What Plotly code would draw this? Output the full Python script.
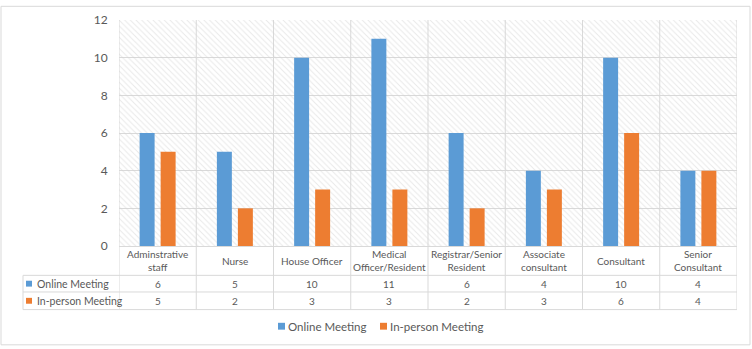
import plotly.graph_objects as go

categories = ["Adminstrative<br>staff", "Nurse", "House Officer", "Medical<br>Officer/Resident",
              "Registrar/Senior<br>Resident", "Associate<br>consultant", "Consultant", "Senior<br>Consultant"]
series_names = ["Online Meeting", "In-person Meeting"]
online = [6, 5, 10, 11, 6, 4, 10, 4]
inperson = [5, 2, 3, 3, 2, 3, 6, 4]
y_ticks = [0, 2, 4, 6, 8, 10, 12]
YMAX = 12

BLUE = "#5B9BD5"
ORANGE = "#ED7D31"
GRID = "#d9d9d9"
TXT = "#595959"
FONT = "Lato"

W, H = 752, 349
L, R, T, B = 119, 737, 15, 246
PW, PH = R - L, B - T


def px(x):
    return (x - L) / PW


def py(y):
    return (B - y) / PH


xs = list(range(len(categories)))
fig = go.Figure()

# hatched plot-area background
fig.add_trace(go.Bar(
    x=xs, y=[YMAX] * len(xs), width=1, offset=-0.5,
    marker=dict(color="rgba(0,0,0,0)", line=dict(width=0),
                pattern=dict(shape="\\", fgcolor="#d2d2d2", size=4, solidity=0.25)),
    hoverinfo="skip", showlegend=False))

fig.add_trace(go.Bar(x=xs, y=online, name=series_names[0], marker_color=BLUE,
                     width=0.194, offset=-0.233, marker_line_width=0, showlegend=False))
fig.add_trace(go.Bar(x=xs, y=inperson, name=series_names[1], marker_color=ORANGE,
                     width=0.194, offset=0.039, marker_line_width=0, showlegend=False))

shapes = []
ann = []
line = dict(color=GRID, width=1)

# vertical lines at category boundaries (plot + table)
for k in range(len(categories) + 1):
    shapes.append(dict(type="line", xref="x", yref="paper", x0=k - 0.5, x1=k - 0.5,
                       y0=py(15), y1=py(311), line=line, layer="below"))
# table horizontal lines
for yy in [276, 293, 311]:
    shapes.append(dict(type="line", xref="paper", yref="paper", x0=px(23), x1=px(737),
                       y0=py(yy), y1=py(yy), line=line))
shapes.append(dict(type="line", xref="paper", yref="paper", x0=px(23), x1=px(23),
                   y0=py(276), y1=py(311), line=line))
# outer chart border
shapes.append(dict(type="rect", xref="paper", yref="paper", x0=px(1), x1=px(750),
                   y0=py(1), y1=py(347), line=line, layer="below"))

# category labels
for i, c in enumerate(categories):
    ann.append(dict(x=i, y=py(261), xref="x", yref="paper", text=c, showarrow=False,
                    font=dict(size=10, color=TXT, family=FONT), align="center",
                    xanchor="center", yanchor="middle"))
# value rows
for rowy, vals in [(284.5, online), (302, inperson)]:
    for i, v in enumerate(vals):
        ann.append(dict(x=i, y=py(rowy), xref="x", yref="paper", text=str(v), showarrow=False,
                        font=dict(size=10, color=TXT, family=FONT), xanchor="center", yanchor="middle"))
# row labels with keys
for rowy, name, col in [(284.5, series_names[0], BLUE), (302, series_names[1], ORANGE)]:
    shapes.append(dict(type="rect", xref="paper", yref="paper", x0=px(26), x1=px(32),
                       y0=py(rowy - 3), y1=py(rowy + 3), fillcolor=col, line=dict(width=0)))
    ann.append(dict(x=px(35), y=py(rowy), xref="paper", yref="paper", text=name, showarrow=False,
                    font=dict(size=10.5, color=TXT, family=FONT), xanchor="left", yanchor="middle"))

# legend
for lx, name, col in [(278, series_names[0], BLUE), (380, series_names[1], ORANGE)]:
    shapes.append(dict(type="rect", xref="paper", yref="paper", x0=px(lx), x1=px(lx + 7),
                       y0=py(324.5), y1=py(331.5), fillcolor=col, line=dict(width=0)))
    ann.append(dict(x=px(lx + 8), y=py(328), xref="paper", yref="paper", text=name, showarrow=False,
                    font=dict(size=11.5, color=TXT, family=FONT), xanchor="left", yanchor="middle"))

fig.update_layout(
    width=W, height=H, barmode="overlay",
    margin=dict(l=L, r=W - R, t=T, b=H - B),
    paper_bgcolor="white", plot_bgcolor="white",
    font=dict(family=FONT, color=TXT, size=12),
    shapes=shapes, annotations=ann, showlegend=False,
    xaxis=dict(range=[-0.5, len(categories) - 0.5], showticklabels=False,
               showgrid=False, ticks="", showline=False, zeroline=False, fixedrange=True),
    yaxis=dict(range=[0, YMAX], tickmode="array", tickvals=y_ticks, showgrid=True, gridcolor=GRID,
               gridwidth=1, zeroline=True, zerolinecolor=GRID, zerolinewidth=1,
               ticks="outside", ticklen=8, tickcolor="rgba(0,0,0,0)",
               tickfont=dict(size=12, color=TXT, family=FONT), showline=False, fixedrange=True),
)

fig.write_html("out.html")
